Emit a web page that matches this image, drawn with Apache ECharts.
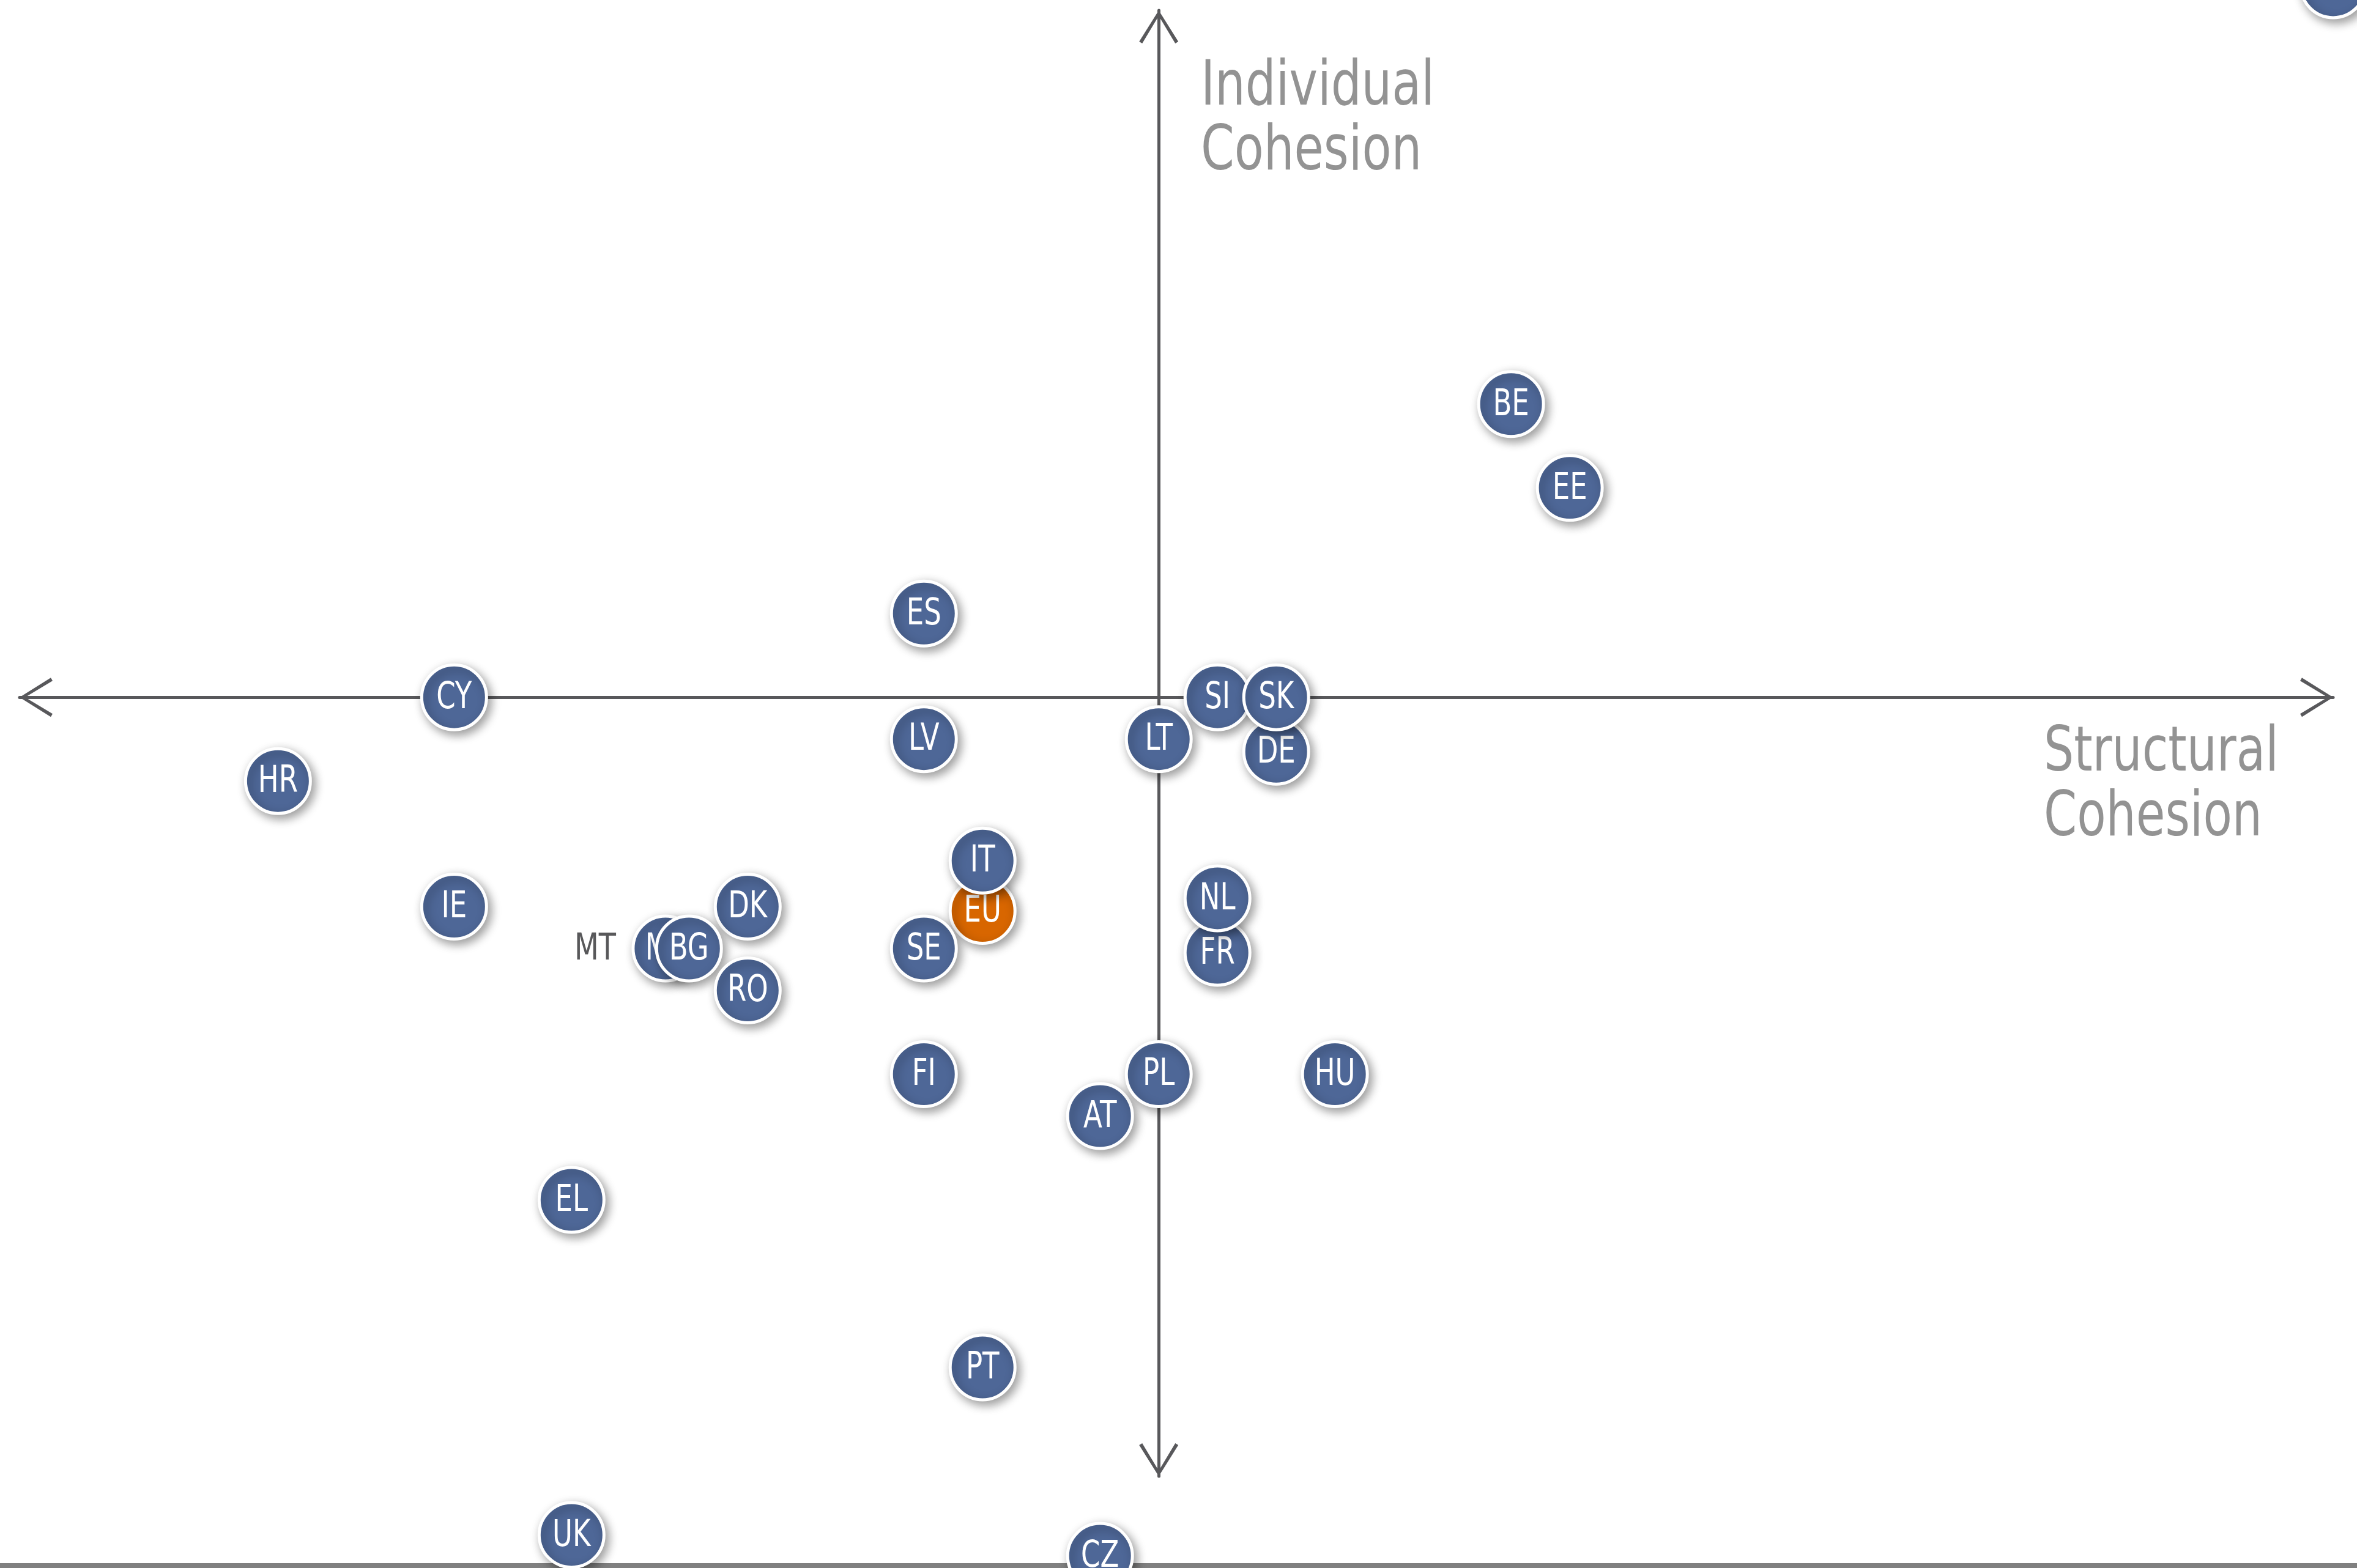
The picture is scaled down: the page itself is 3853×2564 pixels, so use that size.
<!DOCTYPE html>
<html>
<head>
<meta charset="utf-8">
<script src="https://cdn.jsdelivr.net/npm/echarts@6/dist/echarts.min.js"></script>
<style>
html,body{margin:0;padding:0;background:#fff;}
#chart{width:3853px;height:2564px;}
</style>
</head>
<body>
<div id="chart"></div>
<script>
// Country codes, structural cohesion (x) and individual cohesion (y) scores
const countries = ['LU','BE','EE','ES','CY','SI','LV','LT','DE','SK','HR','EU','IT','IE','DK','FR','NL','MT','BG','SE','RO','FI','HU','AT','PL','EL','PT','UK','CZ'];
const structural = [20, 6, 7, -4, -12, 1, -4, 0, 2, 2, -15, -3, -3, -12, -7, 1, 1, -8.4, -8, -4, -7, -4, 3, -1, 0, -10, -3, -10, -1];
const individual = [17, 7, 5, 2, 0, 0, -1, -1, -1.3, 0, -2, -5.1, -3.9, -5, -5, -6.1, -4.8, -6, -6, -6, -7, -9, -9, -10, -9, -12, -16, -20, -20.5];
const highlight = ['EU'];
const outsideLabel = ['MT'];
const axisNames = { x: 'Structural\nCohesion', y: 'Individual\nCohesion' };

const BLUE = '#4E6797';
const ORANGE = '#D86600';
const AXIS = '#58585B';
const FONT = "'Liberation Sans Narrow', 'DejaVu Sans Condensed', 'Liberation Sans', sans-serif";

const data = countries.map((c, i) => ({ name: c, value: [structural[i], individual[i]] }));

const chevron = 'path://M32,0 L64,51 L59,54 L32,9 L5,54 L0,51 Z';

function renderItem(params, api) {
  const name = countries[params.dataIndex];
  const p = api.coord([api.value(0), api.value(1)]);
  const r = 53;
  const children = [];
  if (outsideLabel.includes(name)) {
    children.push({
      type: 'text', x: p[0] - r - 28, y: p[1] + 2, scaleX: 0.84,
      style: { text: name, fill: '#58585A', font: '61px ' + FONT, align: 'right', verticalAlign: 'middle' }
    });
  }
  children.push({
    type: 'circle',
    shape: { cx: p[0], cy: p[1], r: r },
    style: {
      fill: highlight.includes(name) ? ORANGE : BLUE,
      stroke: '#ffffff', lineWidth: 5,
      shadowBlur: 16, shadowColor: 'rgba(0,0,0,0.38)', shadowOffsetX: 5, shadowOffsetY: 6
    }
  });
  children.push({
    type: 'text', x: p[0], y: p[1] + 2, scaleX: 0.82,
    style: { text: name, fill: '#ffffff', font: '61px ' + FONT, align: 'center', verticalAlign: 'middle' }
  });
  return { type: 'group', children: children };
}

const chart = echarts.init(document.getElementById('chart'));
chart.setOption({
  animation: false,
  backgroundColor: '#ffffff',
  grid: { left: 32, right: 39, top: 17, bottom: 150 },
  xAxis: {
    type: 'value', min: -19.4, max: 20,
    splitLine: { show: false }, axisTick: { show: false }, axisLabel: { show: false },
    axisLine: {
      show: true, onZero: true,
      symbol: [chevron, chevron], symbolSize: [64, 54], symbolOffset: [27, -27],
      lineStyle: { color: AXIS, width: 5 }
    }
  },
  yAxis: {
    type: 'value', min: -18.6, max: 16.4,
    splitLine: { show: false }, axisTick: { show: false }, axisLabel: { show: false },
    axisLine: {
      show: true, onZero: true,
      symbol: [chevron, chevron], symbolSize: [64, 54], symbolOffset: [27, -27],
      lineStyle: { color: AXIS, width: 5 }
    }
  },
  graphic: [
    { type: 'rect', z: 0, shape: { x: 0, y: 2556, width: 3853, height: 8 }, style: { fill: '#808080' } },
    { type: 'text', z: 1, x: 1963, y: 91, scaleX: 0.855, style: { text: axisNames.y, font: "102px " + FONT, lineHeight: 106, fill: '#939393', textVerticalAlign: 'top' } },
    { type: 'text', z: 1, x: 3341, y: 1180, scaleX: 0.845, style: { text: axisNames.x, font: "102px " + FONT, lineHeight: 106, fill: '#939393', textVerticalAlign: 'top' } }
  ],
  series: [
    {
      type: 'custom', z: 4, clip: false,
      renderItem: renderItem,
      data: data
    }
  ]
});
</script>
</body>
</html>
